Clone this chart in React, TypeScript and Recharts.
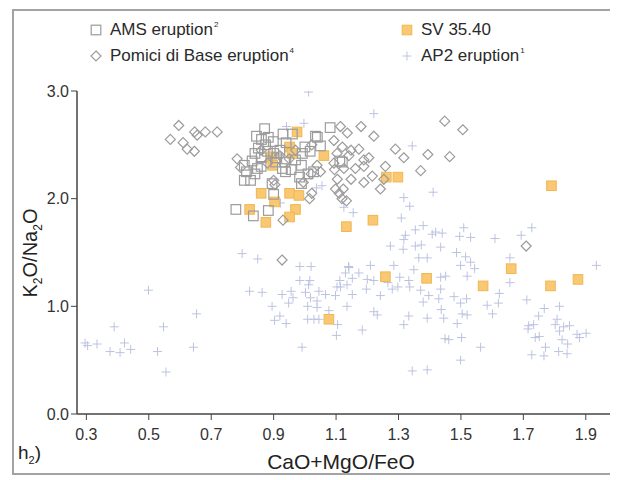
import React from 'react'
import { ScatterChart, Scatter, XAxis, YAxis } from 'recharts'

// CaO+MgO/FeO vs K2O/Na2O
const xTicks = [0.3, 0.5, 0.7, 0.9, 1.1, 1.3, 1.5, 1.7, 1.9]
const yTicks = [0, 1, 2, 3]

const amsEruption = [
  [0.871, 2.65], [0.845, 2.58], [0.861, 2.55], [0.883, 2.57], [0.899, 2.53], [0.874, 2.5],
  [0.851, 2.47], [0.84, 2.42], [0.86, 2.38], [0.831, 2.35], [0.806, 2.31], [0.813, 2.25],
  [0.84, 2.23], [0.848, 2.28], [0.806, 2.17], [0.826, 2.17], [0.906, 2.34], [0.935, 2.34],
  [0.928, 2.28], [0.956, 2.27], [0.989, 2.31], [0.992, 2.42], [1.017, 2.44], [1.04, 2.57],
  [1.05, 2.49], [1.081, 2.66], [1.12, 2.34], [1.028, 2.25], [0.895, 2.14], [0.779, 1.9],
  [0.835, 1.84], [0.883, 1.89], [0.938, 2.25], [0.983, 2.2], [0.989, 2.14], [1.112, 2.35],
  [1.034, 2.58], [1.01, 2.23], [0.92, 2.45], [0.9, 2.42], [0.94, 2.52], [0.96, 2.6],
  [0.88, 2.44], [0.91, 2.38], [0.97, 2.36], [0.86, 2.3], [0.93, 2.6], [1.0, 2.48], [0.9, 2.04],
]

const pomiciDiBase = [
  [0.596, 2.68], [0.569, 2.55], [0.61, 2.52], [0.623, 2.46], [0.646, 2.44], [0.647, 2.62],
  [0.655, 2.59], [0.681, 2.62], [0.719, 2.62],
  [0.783, 2.37], [0.794, 2.29], [0.9, 2.17], [0.93, 1.8], [0.86, 2.45], [0.904, 2.13],
  [1.022, 2.5], [1.039, 2.31], [1.02, 2.23], [1.05, 2.25], [0.995, 2.15], [1.022, 2.05],
  [1.015, 2.0], [1.104, 2.18], [1.11, 2.05], [1.133, 1.98],
  [1.114, 2.67], [1.136, 2.61], [1.18, 2.67], [1.221, 2.58], [1.093, 2.54], [1.12, 2.48],
  [1.148, 2.45], [1.173, 2.46], [1.103, 2.42], [1.141, 2.4], [1.205, 2.38], [1.189, 2.36],
  [1.093, 2.33], [1.125, 2.28], [1.095, 2.27], [1.162, 2.28], [1.189, 2.3], [1.216, 2.21],
  [1.148, 2.18], [1.189, 2.15], [1.098, 2.09], [1.123, 2.09], [1.119, 2.0], [1.242, 2.09],
  [1.253, 2.18], [1.258, 2.3], [1.29, 2.46], [1.317, 2.38], [1.371, 2.26], [1.394, 2.41],
  [1.464, 2.39], [1.448, 2.72], [1.506, 2.64],
  [0.927, 1.43], [1.709, 1.56], [0.92, 2.4], [0.95, 2.37], [0.97, 2.45], [0.88, 2.33],
]

const sv3540 = [
  [0.975, 2.62], [0.951, 2.48], [0.959, 2.42], [1.061, 2.4], [0.893, 2.39], [0.897, 2.31],
  [0.86, 2.05], [0.951, 2.05], [0.981, 2.03], [0.903, 1.97], [0.823, 1.9], [0.97, 1.9],
  [0.951, 1.83], [0.875, 1.78], [1.133, 1.74], [1.261, 2.2], [1.298, 2.2], [1.218, 1.8],
  [1.258, 1.275], [1.39, 1.26], [1.571, 1.19], [1.79, 2.12], [1.661, 1.35], [1.787, 1.19],
  [1.875, 1.25], [1.077, 0.88],
]

const ap2Eruption = [
  [0.296, 0.66], [0.304, 0.635], [0.334, 0.65], [0.389, 0.81], [0.422, 0.66], [0.376, 0.58],
  [0.408, 0.57], [0.442, 0.6], [0.499, 1.15], [0.547, 0.81], [0.528, 0.58], [0.555, 0.39],
  [0.653, 0.93], [0.643, 0.62],
  [0.799, 1.49], [0.849, 1.44], [0.984, 1.37], [1.02, 1.37], [0.984, 1.24], [1.016, 1.24],
  [1.012, 1.2], [0.823, 1.14], [0.863, 1.13], [0.927, 1.11], [0.956, 1.14], [0.962, 1.08],
  [0.948, 1.03], [0.895, 1.0], [0.92, 0.91], [0.903, 0.87], [0.94, 0.84], [1.002, 1.13],
  [1.018, 1.08], [1.045, 1.14], [1.039, 1.05], [1.009, 1.0], [1.039, 0.99], [1.066, 1.11],
  [1.098, 1.1], [1.077, 0.96], [1.009, 0.88], [1.029, 0.88], [1.045, 0.88], [1.105, 0.83],
  [1.101, 0.73], [0.991, 0.62], [1.14, 1.37], [1.13, 1.31], [1.112, 1.24], [1.135, 1.2],
  [1.152, 1.26], [1.114, 1.18], [1.152, 1.11], [1.135, 1.0], [1.173, 1.31],
  [1.336, 1.93], [1.155, 1.87], [1.309, 1.82], [1.379, 1.75], [1.354, 1.71], [1.419, 1.69],
  [1.44, 1.68], [1.408, 1.67], [1.322, 1.66], [1.317, 1.62], [1.509, 1.73], [1.496, 1.65],
  [1.531, 1.64], [1.274, 1.56], [1.354, 1.56], [1.373, 1.57], [1.435, 1.55], [1.315, 1.53],
  [1.486, 1.5], [1.515, 1.46], [1.365, 1.45], [1.392, 1.45], [1.531, 1.41], [1.499, 1.38],
  [1.544, 1.35], [1.349, 1.34], [1.285, 1.38], [1.21, 1.38], [1.2, 1.25], [1.221, 1.24],
  [1.304, 1.27], [1.333, 1.24], [1.435, 1.27], [1.451, 1.28], [1.52, 1.28], [1.197, 1.16],
  [1.266, 1.22], [1.28, 1.16], [1.298, 1.18], [1.336, 1.18], [1.371, 1.15], [1.397, 1.1],
  [1.435, 1.16], [1.242, 1.1], [1.379, 1.04], [1.429, 1.07], [1.478, 1.09], [1.499, 1.03],
  [1.518, 1.07], [1.584, 1.01], [1.221, 0.95], [1.232, 0.92], [1.333, 0.91], [1.437, 0.97],
  [1.392, 0.89], [1.445, 0.89], [1.504, 0.93], [1.52, 0.92], [1.184, 0.78], [1.317, 0.83],
  [1.488, 0.84], [1.449, 0.7], [1.461, 0.69], [1.502, 0.71], [1.563, 0.62], [1.499, 0.5],
  [1.344, 0.4], [1.392, 0.41],
  [1.609, 1.63], [1.693, 1.66], [1.727, 1.73], [1.657, 1.45], [1.657, 1.22], [1.623, 1.12],
  [1.62, 1.03], [1.601, 0.93], [1.711, 1.06], [1.767, 0.98], [1.816, 1.0], [1.749, 0.91],
  [1.717, 0.82], [1.715, 0.79], [1.733, 0.83], [1.738, 0.71], [1.751, 0.72], [1.771, 0.62],
  [1.727, 0.55], [1.766, 0.54], [1.808, 0.88], [1.802, 0.83], [1.816, 0.77], [1.829, 0.81],
  [1.848, 0.82], [1.824, 0.69], [1.842, 0.65], [1.813, 0.58], [1.84, 0.56], [1.872, 0.74],
  [1.88, 0.71], [1.901, 0.75], [1.934, 1.38],
  [1.012, 2.99], [1.221, 2.79], [0.941, 2.67], [0.997, 2.7], [1.344, 2.49], [1.411, 2.06],
  [1.317, 2.01], [1.125, 1.92], [1.055, 2.12], [1.037, 2.1], [0.922, 1.96], [0.948, 1.83],
  [1.103, 1.18], [1.141, 1.36],
]

const toPoints = (arr: number[][]) => arr.map(([x, y]) => ({ x, y }))

const FONT = '"Liberation Sans", Arial, sans-serif'
const GREY = '#9c9c9c'
const ORANGE_FILL = '#f9c873'
const ORANGE_LINE = '#f2b650'
const CROSS = '#bcc3e0'

const OpenSquare = ({ cx, cy }: any) => (
  <rect x={cx - 4.8} y={cy - 4.8} width={9.6} height={9.6} fill="none" stroke={GREY} strokeWidth={1.2} />
)

const OpenDiamond = ({ cx, cy }: any) => (
  <path
    d={`M${cx},${cy - 5}L${cx + 5},${cy}L${cx},${cy + 5}L${cx - 5},${cy}Z`}
    fill="none"
    stroke={GREY}
    strokeWidth={1.2}
  />
)

const FilledSquare = ({ cx, cy }: any) => (
  <rect x={cx - 4.8} y={cy - 4.8} width={9.6} height={9.6} fill={ORANGE_FILL} stroke={ORANGE_LINE} strokeWidth={1} />
)

const Cross = ({ cx, cy }: any) => (
  <path
    d={`M${cx - 4.5},${cy}H${cx + 4.5}M${cx},${cy - 4.5}V${cy + 4.5}`}
    stroke={CROSS}
    strokeWidth={1}
    fill="none"
  />
)

function LegendItem({ left, top, marker, label, sup }: any) {
  return (
    <div
      style={{
        position: 'absolute',
        left,
        top: top - 11,
        height: 22,
        display: 'flex',
        alignItems: 'center',
        whiteSpace: 'nowrap',
        fontSize: 17,
        color: '#2a2a2a',
      }}
    >
      <svg width={12} height={12} style={{ marginRight: 8 }}>
        {marker({ cx: 6, cy: 6 })}
      </svg>
      <span>
        {label}
        {sup && <span style={{ fontSize: 8, position: 'relative', top: -8, marginLeft: 1 }}>{sup}</span>}
      </span>
    </div>
  )
}

export default function App() {
  const axisLine = { stroke: '#444', strokeWidth: 1.5 }
  const tick = { fontSize: 16, fill: '#333', fontFamily: FONT }

  return (
    <div style={{ position: 'relative', width: 610, height: 472, overflow: 'hidden', fontFamily: FONT }}>
      <div
        style={{
          position: 'absolute',
          left: 4,
          top: 1,
          width: 640,
          height: 466,
          boxSizing: 'border-box',
          border: '2px solid #a3a3a3',
        }}
      />

      <LegendItem left={82} top={22} marker={OpenSquare} label="AMS eruption" sup="2" />
      <LegendItem left={82} top={48} marker={OpenDiamond} label="Pomici di Base eruption" sup="4" />
      <LegendItem left={393} top={22} marker={FilledSquare} label="SV 35.40" />
      <LegendItem left={393} top={48} marker={Cross} label="AP2 eruption" sup="1" />

      <div style={{ position: 'absolute', left: 0, top: 0 }}>
        <ScatterChart width={610} height={472} margin={{ top: 83, right: 1, bottom: 0, left: 0 }}>
          <XAxis
            type="number"
            dataKey="x"
            domain={[0.27, 2.0]}
            ticks={xTicks}
            tickFormatter={(v: number) => v.toFixed(1)}
            height={66}
            tickMargin={9}
            axisLine={axisLine}
            tickLine={{ stroke: '#444' }}
            tick={tick}
            allowDataOverflow
          />
          <YAxis
            type="number"
            dataKey="y"
            domain={[0, 3]}
            ticks={yTicks}
            tickFormatter={(v: number) => v.toFixed(1)}
            width={69}
            axisLine={axisLine}
            tickLine={{ stroke: '#444' }}
            tick={tick}
            allowDataOverflow
          />
          <Scatter data={toPoints(ap2Eruption)} shape={Cross} isAnimationActive={false} />
          <Scatter data={toPoints(sv3540)} shape={FilledSquare} isAnimationActive={false} />
          <Scatter data={toPoints(amsEruption)} shape={OpenSquare} isAnimationActive={false} />
          <Scatter data={toPoints(pomiciDiBase)} shape={OpenDiamond} isAnimationActive={false} />
        </ScatterChart>
      </div>

      {/* axis titles */}
      <div
        style={{
          position: 'absolute',
          left: 24,
          top: 245,
          transform: 'translate(-50%, -50%) rotate(-90deg)',
          fontSize: 20,
          color: '#222',
          whiteSpace: 'nowrap',
        }}
      >
        K<sub style={{ fontSize: 12 }}>2</sub>O/Na<sub style={{ fontSize: 12 }}>2</sub>O
      </div>
      <div
        style={{
          position: 'absolute',
          left: 333,
          top: 454,
          transform: 'translate(-50%, -50%)',
          fontSize: 21,
          color: '#222',
          whiteSpace: 'nowrap',
        }}
      >
        CaO+MgO/FeO
      </div>
      <div style={{ position: 'absolute', left: 10, top: 434, fontSize: 19, color: '#222', whiteSpace: 'nowrap' }}>
        h<sub style={{ fontSize: 11 }}>2</sub>)
      </div>
    </div>
  )
}
